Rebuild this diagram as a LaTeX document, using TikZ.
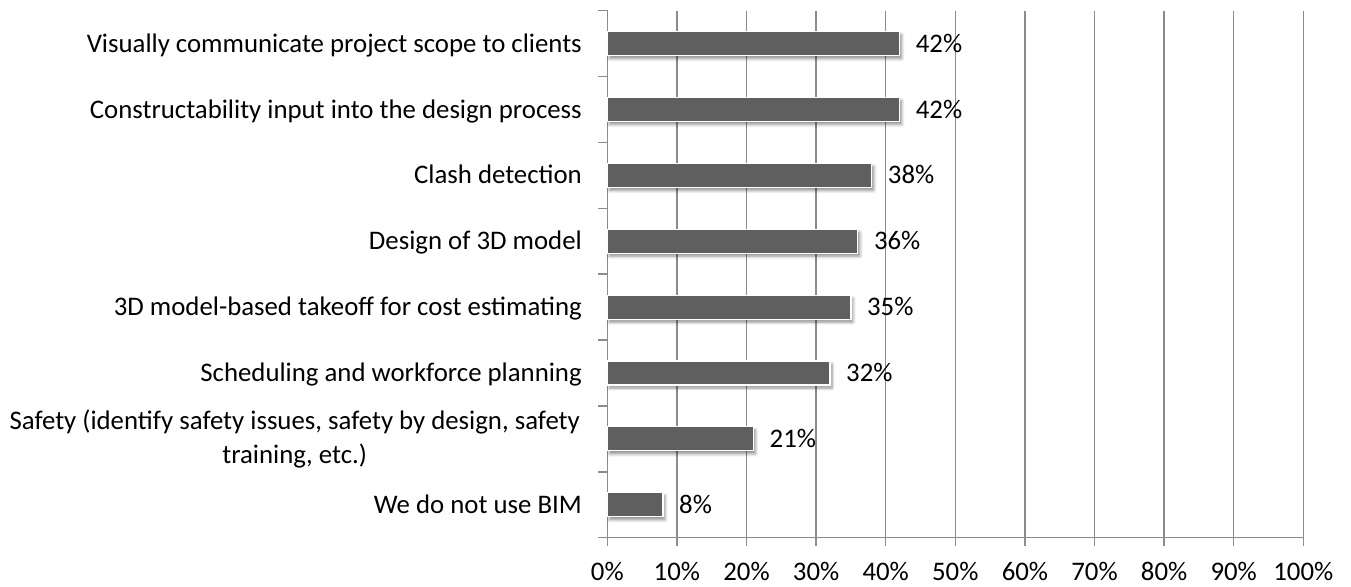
\documentclass[tikz,border=0pt]{standalone}
\usepackage{fontspec}
\setmainfont{Carlito}
\usetikzlibrary{shadows.blur}
\definecolor{barfill}{HTML}{5F5F5F}
\definecolor{gridcol}{HTML}{8C8C8C}
\tikzset{
  gridline/.style={draw=gridcol, line width=1.5pt},
  barbox/.style={fill=barfill, draw=white, line width=1.2pt,
    blur shadow={shadow xshift=2pt, shadow yshift=-3pt, shadow blur steps=6, shadow blur radius=3pt, shadow opacity=45}},
  catlabel/.style={anchor=base east, inner sep=0pt, font=\fontsize{26.8}{34}\selectfont},
  vallabel/.style={anchor=base west, inner sep=0pt, font=\fontsize{26.8}{34}\selectfont},
  ticklabel/.style={anchor=base, inner sep=0pt, font=\fontsize{26.8}{34}\selectfont},
}
\begin{document}
\begin{tikzpicture}[x=1pt, y=-1pt]
\useasboundingbox (0,0) rectangle (1351,586);
% grid lines
\foreach \p in {1,...,10} {
  \draw[gridline] (607.3+69.6*\p, 10.7) -- (607.3+69.6*\p, 545.7);
}
% axes
\draw[gridline] (598.3,10.7) -- (607.3,10.7) -- (607.3,545.7);
\draw[gridline] (598.3,537.7) -- (1303.3,537.7);
\foreach \i in {1,...,7} {
  \draw[gridline] (598.3, 10.7+65.875*\i) -- (607.3, 10.7+65.875*\i);
}
% bars
\foreach \v/\i in {42/1,42/2,38/3,36/4,35/5,32/6,21/7,8/8} {
  \pgfmathsetmacro{\cy}{10.7+(\i-0.5)*65.875}
  \pgfmathsetmacro{\xe}{607.3+6.96*\v}
  \path[barbox] (607.3,\cy-12) rectangle (\xe,\cy+12);
  \node[vallabel] (v\i) at (\xe+16,\cy+8.6) {\v\%};
}
% category labels
\node[catlabel] (c1) at (582,43.6+8.6) {Visually communicate project scope to clients};
\node[catlabel] (c2) at (582,109.5+8.6) {Constructability input into the design process};
\node[catlabel] (c3) at (582,175.3+8.6) {Clash detection};
\node[catlabel] (c4) at (582,241.2+8.6) {Design of 3D model};
\node[catlabel] (c5) at (582,307.1+8.6) {3D model-based takeoff for cost estimating};
\node[catlabel] (c6) at (582,373.0+8.6) {Scheduling and workforce planning};
\node[anchor=east, inner sep=0pt, align=center, font=\fontsize{26.8}{34}\selectfont] (c7) at (580,439) {Safety (identify safety issues, safety by design, safety\\training, etc.)};
\node[catlabel] (c8) at (582,504.7+8.6) {We do not use BIM};
% tick labels
\foreach \p in {0,...,10} {
  \node[ticklabel] (t\p) at (607.3+69.6*\p, 580) {\the\numexpr\p*10\relax\%};
}
\end{tikzpicture}
\end{document}
